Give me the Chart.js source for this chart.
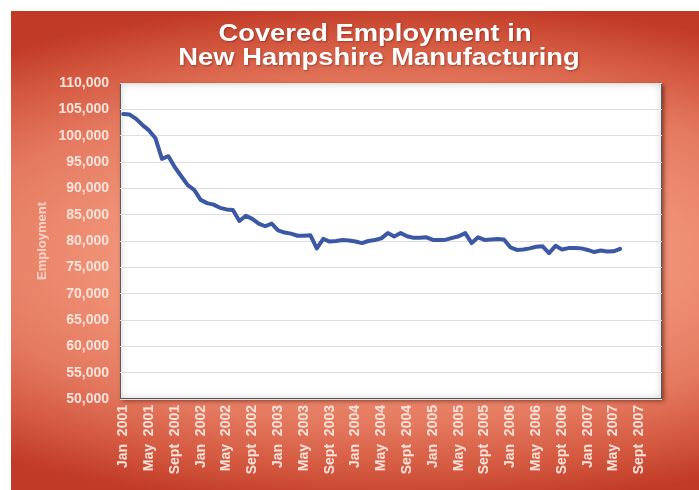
<!DOCTYPE html>
<html>
<head>
<meta charset="utf-8">
<title>Covered Employment in New Hampshire Manufacturing</title>
<script src="https://cdn.jsdelivr.net/npm/chart.js@4/dist/chart.umd.min.js"></script>
<style>
    html, body { margin: 0; padding: 0; background: #fff; }
    body { width: 699px; height: 490px; position: relative; overflow: hidden; }
    .slide {
        position: absolute;
        left: 11px;
        top: 11px;
        width: 688px;
        height: 479px;
        background: radial-gradient(ellipse 95% 53% at 55% 51%, #f7a68d 0%, #f19479 40%, #e47a60 66%, #d3583f 85%, #c13a27 100%);
    }
    #chart { position: absolute; left: 0; top: 0; }
</style>
</head>
<body>
<div class="slide">
    <canvas id="chart" width="688" height="479"></canvas>
</div>
<script>
(function () {
    const TITLE_LINES = ['Covered Employment in', 'New Hampshire Manufacturing'];
    const MONTHS = ['Jan', 'Feb', 'Mar', 'Apr', 'May', 'June', 'July', 'Aug', 'Sept', 'Oct', 'Nov', 'Dec'];
    const YEARS = [2001, 2002, 2003, 2004, 2005, 2006, 2007];

    // monthly covered employment, Jan 2001 - Jun 2007
    const EMPLOYMENT = [
        104100, 104000, 103200, 102000, 101000, 99500, 95600, 96100, 94000, 92300, 90600, 89700,
        87800, 87200, 86900, 86300, 86000, 85900, 83800, 84800, 84200, 83300, 82800, 83300,
        82000, 81600, 81400, 81000, 81000, 81100, 78600, 80400, 79900, 80000, 80200, 80100,
        79900, 79600, 80000, 80200, 80500, 81500, 80850, 81500, 80900, 80600, 80600, 80700,
        80200, 80200, 80250, 80600, 80900, 81500, 79600, 80700, 80200, 80300, 80400, 80300,
        78800, 78300, 78400, 78600, 78900, 79000, 77700, 79100, 78400, 78650, 78650, 78600,
        78300, 77900, 78200, 78000, 78050, 78500
    ];

    const Y_MIN = 50000;
    const Y_MAX = 110000;
    const Y_STEP = 5000;

    // one category per month; only every fourth month gets a label
    const categories = [];
    YEARS.forEach(year => {
        MONTHS.forEach(month => categories.push(month + '  ' + year));
    });

    const LINE_BLUE = '#3b58a5';
    const LABEL_COLOR = '#fde3da';
    const FONT_FAMILY = '"Liberation Sans", Arial, sans-serif';

    const panelPlugin = {
        id: 'panel',
        beforeDraw(chart) {
            const { ctx, chartArea: a } = chart;
            const w = a.right - a.left;
            const h = a.bottom - a.top;

            ctx.save();
            ctx.shadowColor = 'rgba(60,10,0,0.55)';
            ctx.shadowBlur = 4;
            ctx.shadowOffsetX = 2;
            ctx.shadowOffsetY = 2;
            ctx.fillStyle = '#ffffff';
            ctx.fillRect(a.left, a.top, w, h);
            ctx.restore();

            // soft inner edge
            ctx.save();
            ctx.beginPath();
            ctx.rect(a.left, a.top, w, h);
            ctx.clip();
            ctx.shadowColor = 'rgba(0,0,0,0.22)';
            ctx.shadowBlur = 9;
            ctx.lineWidth = 10;
            ctx.strokeStyle = '#ffffff';
            ctx.strokeRect(a.left - 5, a.top - 5, w + 10, h + 10);
            ctx.restore();

            ctx.save();
            ctx.strokeStyle = '#5a5a5a';
            ctx.lineWidth = 1;
            ctx.strokeRect(a.left + 0.5, a.top + 0.5, w - 1, h - 1);
            ctx.restore();
        }
    };

    // two-line heading, set a little wide like the slide's title face
    const headingPlugin = {
        id: 'heading',
        afterDraw(chart) {
            const { ctx } = chart;
            const rows = [[TITLE_LINES[0], 364, 30], [TITLE_LINES[1], 368, 54]];
            ctx.save();
            ctx.font = 'bold 24px ' + FONT_FAMILY;
            ctx.fillStyle = '#ffffff';
            ctx.textAlign = 'center';
            ctx.textBaseline = 'alphabetic';
            ctx.shadowColor = 'rgba(90,20,10,0.45)';
            ctx.shadowBlur = 2;
            ctx.shadowOffsetX = 1;
            ctx.shadowOffsetY = 1;
            rows.forEach(([text, x, y]) => {
                ctx.save();
                ctx.translate(x, y);
                ctx.scale(1.14, 1);
                ctx.fillText(text, 0, 0);
                ctx.restore();
            });
            ctx.restore();
        }
    };

    new Chart(document.getElementById('chart'), {
        type: 'line',
        data: {
            labels: categories,
            datasets: [{
                label: 'Employment',
                data: EMPLOYMENT,
                borderColor: LINE_BLUE,
                borderWidth: 4,
                borderJoinStyle: 'round',
                borderCapStyle: 'round',
                tension: 0,
                pointRadius: 0,
                fill: false
            }]
        },
        options: {
            responsive: false,
            animation: false,
            layout: { padding: { top: 72, right: 37, left: 0, bottom: 0 } },
            plugins: {
                legend: { display: false },
                tooltip: { enabled: false }
            },
            scales: {
                x: {
                    type: 'category',
                    offset: true,
                    border: { display: false },
                    grid: { display: false, drawTicks: false },
                    afterFit: scale => { scale.height = 91; },
                    ticks: {
                        autoSkip: false,
                        minRotation: 90,
                        maxRotation: 90,
                        padding: 6,
                        color: LABEL_COLOR,
                        font: { family: FONT_FAMILY, size: 14, weight: 'bold' },
                        callback: function (value, index) {
                            return index % 4 === 0 ? this.getLabelForValue(value) : '';
                        }
                    }
                },
                y: {
                    min: Y_MIN,
                    max: Y_MAX,
                    border: { display: false },
                    grid: { color: '#dedede', lineWidth: 1, drawTicks: false },
                    afterFit: scale => { scale.width = 109; },
                    title: {
                        display: true,
                        text: 'Employment',
                        color: '#fbd3c6',
                        padding: { top: 24, bottom: 0 },
                        font: { family: FONT_FAMILY, size: 13, weight: 'bold' }
                    },
                    ticks: {
                        stepSize: Y_STEP,
                        padding: 11,
                        color: LABEL_COLOR,
                        font: { family: FONT_FAMILY, size: 14, weight: 'bold' },
                        callback: value => value.toLocaleString('en-US')
                    }
                }
            }
        },
        plugins: [panelPlugin, headingPlugin]
    });
})();
</script>
</body>
</html>
